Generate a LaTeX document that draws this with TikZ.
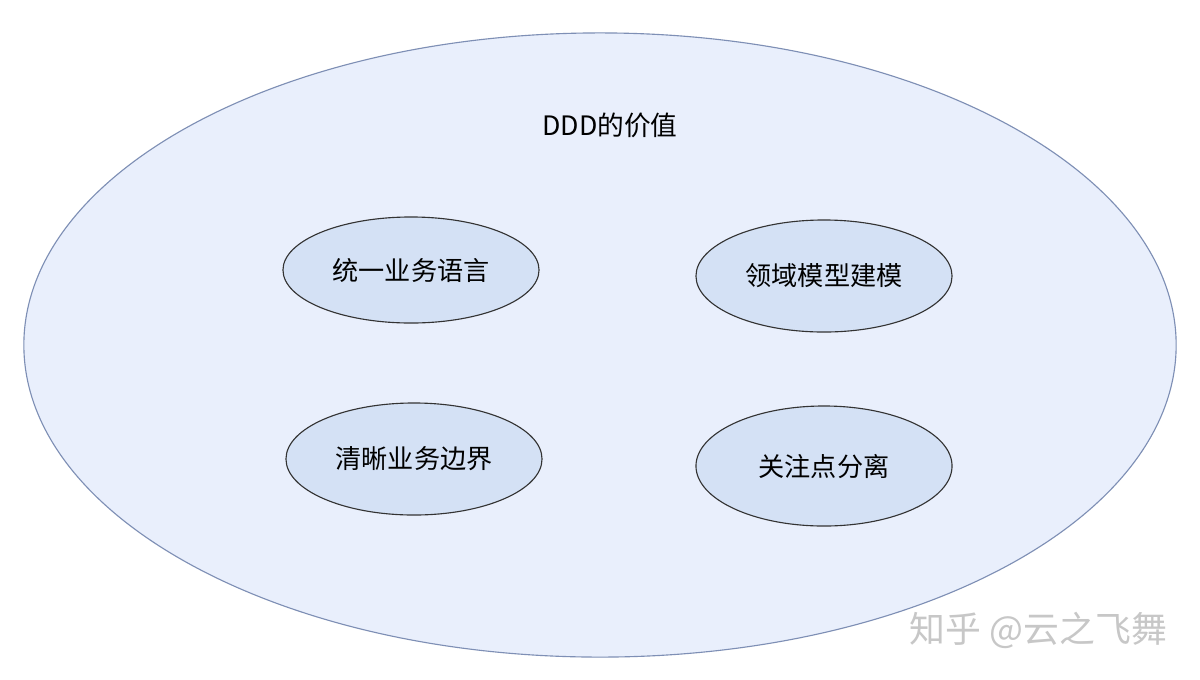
\documentclass[tikz,border=0pt]{standalone}
\usepackage{fontspec}
\setmainfont{Noto Sans CJK SC}
\usetikzlibrary{shapes.geometric}
\definecolor{outerfill}{HTML}{E9EFFC}
\definecolor{outerdraw}{HTML}{7E8FB5}
\definecolor{innerfill}{HTML}{D4E1F5}
\begin{document}
\begin{tikzpicture}[x=0.025cm,y=-0.025cm,
  outer/.style={ellipse,draw=outerdraw,fill=outerfill,line width=0.8pt,minimum width=28.8cm,minimum height=15.6cm,inner sep=0pt},
  value/.style={ellipse,draw=black!80,fill=innerfill,line width=0.8pt,minimum width=6.4cm,inner sep=0pt,font=\fontsize{18.6}{21}\selectfont},
  watermark/.style={text=black!22,font=\fontsize{25.5}{28}\selectfont}]
\useasboundingbox (0,0) rectangle (1200,679);
\fill[white] (0,0) rectangle (1200,679);
\node[outer] (DDD) at (600,345) {};
\node[font=\fontsize{19}{22}\selectfont] (title) at (610,125) {DDD的价值};
\node[value,minimum height=2.65cm] (V1) at (411,270) {统一业务语言};
\node[value,minimum height=2.8cm] (V2) at (824,276) {领域模型建模};
\node[value,minimum height=2.8cm] (V3) at (414,459) {清晰业务边界};
\node[value,minimum height=3.0cm] (V4) at (824,466) {关注点分离};
\node[watermark,anchor=west] (zhihu) at (905,630) {知乎 @云之飞舞};
\end{tikzpicture}
\end{document}
